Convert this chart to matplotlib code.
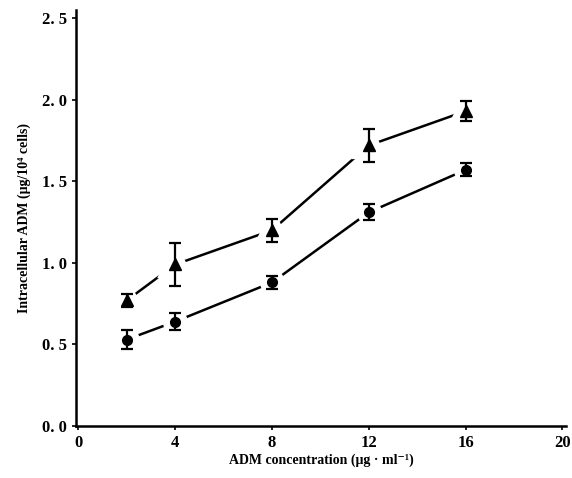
import numpy as np
import matplotlib.pyplot as plt

plt.rcParams['font.family'] = ['Liberation Serif', 'DejaVu Serif']
plt.rcParams['font.weight'] = 'bold'

conc = [2, 4, 8, 12, 16]
tri_y = [0.77, 0.99, 1.20, 1.72, 1.93]
tri_err = [0.04, 0.13, 0.07, 0.10, 0.06]
circ_y = [0.53, 0.64, 0.88, 1.31, 1.57]
circ_err = [0.06, 0.05, 0.04, 0.05, 0.04]

xticks = [0, 4, 8, 12, 16, 20]
yticks = [0.0, 0.5, 1.0, 1.5, 2.0, 2.5]
ylabels = ['0. 0', '0. 5', '1. 0', '1. 5', '2. 0', '2. 5']

fig = plt.figure(figsize=(5.72, 4.78), dpi=100)
ax = fig.add_axes([76/572, 52/478, 490/572, 416/478])

for y, err, mk, ms in [(tri_y, tri_err, '^', 8), (circ_y, circ_err, 'o', 7)]:
    ax.plot(conc, y, color='black', lw=1.8, zorder=1)
    # white halo around markers gives the gap in the line
    ax.plot(conc, y, ls='none', marker=mk, ms=ms, mfc='white', mec='white',
            mew=11, zorder=2)
    ax.errorbar(conc, y, yerr=err, fmt='none', ecolor='black', elinewidth=1.6,
                capsize=4, capthick=1.6, zorder=3)
    ax.plot(conc, y, ls='none', marker=mk, ms=ms, color='black', zorder=4)

ax.set_xlim(-0.1, 20.15)
ax.set_ylim(0, 2.55)
ax.set_xticks(xticks)
ax.set_yticks(yticks)
ax.set_yticklabels(ylabels)
ax.tick_params(labelsize=12, width=1.2, length=3)
for s in ['top', 'right']:
    ax.spines[s].set_visible(False)
for s in ['left', 'bottom']:
    ax.spines[s].set_linewidth(1.8)

ax.set_xlabel('ADM concentration (μg · ml⁻¹)', fontsize=10, fontweight='bold', labelpad=2)
ax.set_ylabel('Intracellular ADM (μg/10⁴ cells)', fontsize=10, fontweight='bold', labelpad=8)

fig.savefig('out.png', dpi=100)
